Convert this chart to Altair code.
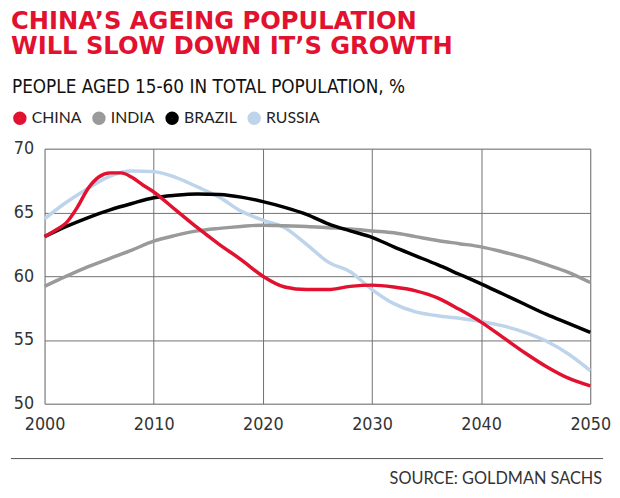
import altair as alt
import pandas as pd

# ---- data ----
CHINA_YEARS = [2000, 2001, 2002, 2003, 2004, 2005, 2006, 2007, 2008, 2009, 2010,
               2012, 2014, 2016, 2018, 2020, 2022, 2024, 2026, 2028, 2030,
               2032, 2034, 2036, 2038, 2040, 2042, 2044, 2046, 2048, 2050]
CHINA = [63.1, 63.6, 64.2, 65.4, 66.9, 67.8, 68.1, 68.1, 67.75, 67.15, 66.6,
         65.2, 63.8, 62.5, 61.3, 60.0, 59.15, 58.95, 58.95, 59.2, 59.3,
         59.15, 58.85, 58.3, 57.4, 56.4, 55.2, 54.0, 52.9, 52.0, 51.4]

YEARS = [2000, 2002, 2004, 2006, 2008, 2010, 2012, 2014, 2016, 2018, 2020,
         2022, 2024, 2026, 2028, 2030, 2032, 2034, 2036, 2038, 2040,
         2042, 2044, 2046, 2048, 2050]
INDIA = [59.2, 60.0, 60.75, 61.4, 62.05, 62.75, 63.2, 63.55, 63.75, 63.9, 64.0,
         63.95, 63.9, 63.8, 63.7, 63.55, 63.4, 63.1, 62.8, 62.55, 62.3,
         61.9, 61.45, 60.9, 60.3, 59.5]
BRAZIL = [63.1, 63.9, 64.6, 65.2, 65.7, 66.15, 66.35, 66.45, 66.4, 66.2, 65.85,
          65.4, 64.85, 64.1, 63.55, 63.05, 62.3, 61.6, 60.9, 60.15, 59.4,
          58.6, 57.8, 57.0, 56.3, 55.6]
RUSSIA = [64.5, 65.8, 66.9, 67.85, 68.25, 68.2, 67.75, 67.0, 66.2, 65.1, 64.4,
          63.8, 62.5, 61.1, 60.35, 58.95, 57.85, 57.2, 56.9, 56.7, 56.45,
          56.1, 55.6, 54.9, 53.9, 52.6]

COUNTRIES = ["CHINA", "INDIA", "BRAZIL", "RUSSIA"]
COLORS = ["#E2112F", "#9A9A9A", "#000000", "#BDD4EA"]
X_TICKS = [2000, 2010, 2020, 2030, 2040, 2050]
Y_TICKS = [50, 55, 60, 65, 70]

TITLE_1 = "CHINA’S AGEING POPULATION"
TITLE_2 = "WILL SLOW DOWN IT’S GROWTH"
SUBTITLE = "PEOPLE AGED 15-60 IN TOTAL POPULATION, %"
SOURCE = "SOURCE: GOLDMAN SACHS"

# drawing order: China last so it sits on top
rows = []
for name, yrs, vals in [("RUSSIA", YEARS, RUSSIA), ("INDIA", YEARS, INDIA),
                        ("BRAZIL", YEARS, BRAZIL), ("CHINA", CHINA_YEARS, CHINA)]:
    for yr, v in zip(yrs, vals):
        rows.append({"year": yr, "share": v, "country": name})
df = pd.DataFrame(rows)

W, H = 552, 258
GRID = "#707070"
COND = "DejaVu Sans Condensed"

lines = alt.Chart(df).mark_line(strokeWidth=3.5, interpolate="monotone").encode(
    x=alt.X("year:Q",
            scale=alt.Scale(domain=[2000, 2050], nice=False, zero=False),
            axis=alt.Axis(values=X_TICKS, format="d", title=None, grid=True,
                          gridColor=GRID, gridWidth=1, domain=False, ticks=False,
                          labelFont=COND, labelFontSize=18, labelColor="#333333",
                          labelPadding=12, labelFlush=False)),
    y=alt.Y("share:Q",
            scale=alt.Scale(domain=[50, 70], nice=False, zero=False),
            axis=alt.Axis(values=Y_TICKS, title=None, grid=True,
                          gridColor=GRID, gridWidth=1, domain=False, ticks=False,
                          labelFont=COND, labelFontSize=18, labelColor="#333333",
                          labelPadding=11)),
    color=alt.Color("country:N",
                    scale=alt.Scale(domain=COUNTRIES, range=COLORS),
                    legend=alt.Legend(orient="none", direction="horizontal",
                                      legendX=-33, legendY=-39, title=None,
                                      symbolType="circle", symbolSize=50,
                                      symbolStrokeWidth=6.5, symbolOpacity=1,
                                      labelFont="Lato", labelFontSize=16,
                                      labelColor="#222222", columnPadding=0,
                                      labelOffset=4, padding=0)),
)

def label(text, x, y, size, font, color, weight="normal", align="left"):
    return alt.Chart(pd.DataFrame({"t": [text]})).mark_text(
        align=align, baseline="alphabetic", font=font, fontSize=size,
        fontWeight=weight, color=color,
    ).encode(text="t:N", x=alt.value(x), y=alt.value(y))

title1 = label(TITLE_1, -34, -121.5, 24.5, "DejaVu Sans", "#E2112F", "bold")
title2 = label(TITLE_2, -34, -95.5, 24.5, "DejaVu Sans", "#E2112F", "bold")
subtitle = label(SUBTITLE, -33, -56.5, 19, COND, "#111111")
source = label(SOURCE, 564, 339.5, 16.5, "Lato", "#333333", align="right")

rule = alt.Chart(pd.DataFrame({"k": [0]})).mark_rule(color="#555555", strokeWidth=1).encode(
    x=alt.value(-34), x2=alt.value(565), y=alt.value(313.5))

chart = alt.layer(lines, title1, title2, subtitle, source, rule).properties(
    width=W, height=H,
    autosize=alt.AutoSizeParams(type="none"),
    padding={"left": 37, "top": 139.5, "right": 22, "bottom": 84.5},
).configure_view(stroke=GRID, strokeWidth=1).configure(background="white")

chart.save("out.html", embed_options={"renderer": "svg", "actions": False})
